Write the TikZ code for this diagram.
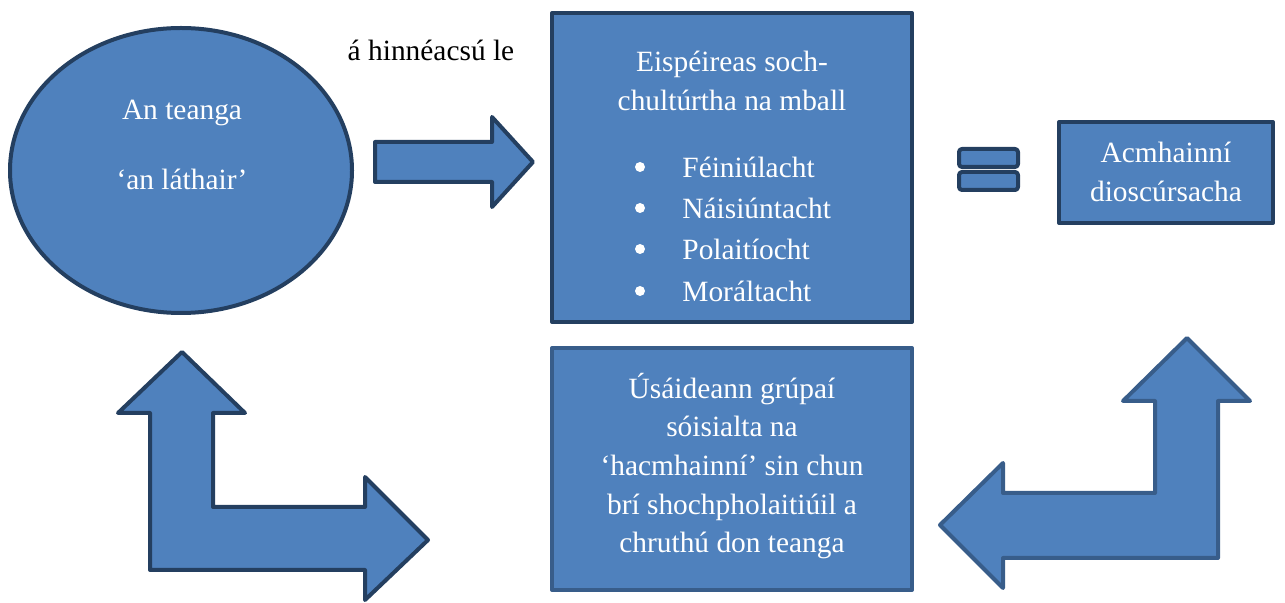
\documentclass[tikz,border=0pt]{standalone}
\usepackage{fontspec}
\setmainfont{Liberation Serif}
\definecolor{fillblue}{HTML}{4F81BD}
\definecolor{darkline}{HTML}{243F60}
\definecolor{midline}{HTML}{385D8A}
\tikzset{
  shapedark/.style={fill=fillblue, draw=darkline, line width=2pt, line join=round},
  shapemid/.style={fill=fillblue, draw=midline, line width=2pt, line join=round},
  wtext/.style={text=white, font=\fontsize{14.7}{19.8}\selectfont, align=center, inner sep=0pt},
  btext/.style={text=black, font=\fontsize{14.7}{19.8}\selectfont, inner sep=0pt},
  bulletdot/.style={circle, fill=white, inner sep=0pt, minimum size=5pt},
}
\begin{document}
\begin{tikzpicture}[x=0.5pt, y=-0.5pt]
\useasboundingbox (0,0) rectangle (1285,603);
% ellipse
\draw[shapedark] (181,170.5) ellipse [x radius=171, y radius=142.5];
\node[wtext] (t1) at (182,113) {An teanga};
\node[wtext] (t2) at (182,179) {‘an láthair’};
% label
\node[btext] (lbl) at (431,50) {á hinnéacsú le};
% right arrow
\draw[shapedark] (375,142) -- (492,142) -- (492,117) -- (533,162) -- (492,207) -- (492,182) -- (375,182) -- cycle;
% box 1
\draw[shapedark] (552,13) rectangle (912,322);
\node[wtext] (b1) at (732,81) {Eispéireas soch-\\chultúrtha na mball};
\foreach \yy/\ww [count=\i] in {167/Féiniúlacht, 208/Náisiúntacht, 249/Polaitíocht, 291/Moráltacht}{
  \node[bulletdot] (bul\i) at (640,\yy) {};
  \node[wtext, anchor=west] (item\i) at (682,\yy) {\ww};
}
% equals
\draw[shapedark, rounded corners=1.5pt] (959,149) rectangle (1018,167);
\draw[shapedark, rounded corners=1.5pt] (959,172) rectangle (1018,190);
% box 3
\draw[shapedark] (1059,122) rectangle (1273,223);
\node[wtext] (b3) at (1166,172) {Acmhainní\\dioscúrsacha};
% box 2
\draw[shapemid] (552,348) rectangle (912,590);
\node[wtext, font=\fontsize{14.7}{19.3}\selectfont] (b2) at (732,466) {Úsáideann grúpaí\\sóisialta na\\‘hacmhainní’ sin chun\\brí shochpholaitiúil a\\chruthú don teanga};
% bent arrow 1
\draw[shapedark] (182,352) -- (245,413) -- (213,413) -- (213,507) -- (365,507) -- (365,477) -- (428,540) -- (365,600) -- (365,570) -- (150,570) -- (150,413) -- (118,413) -- cycle;
% bent arrow 2
\draw[shapemid] (1187,338) -- (1250,401) -- (1218,401) -- (1218,558) -- (1003,558) -- (1003,588) -- (940,525) -- (1003,463) -- (1003,493) -- (1155,493) -- (1155,401) -- (1123,401) -- cycle;
\end{tikzpicture}
\end{document}
